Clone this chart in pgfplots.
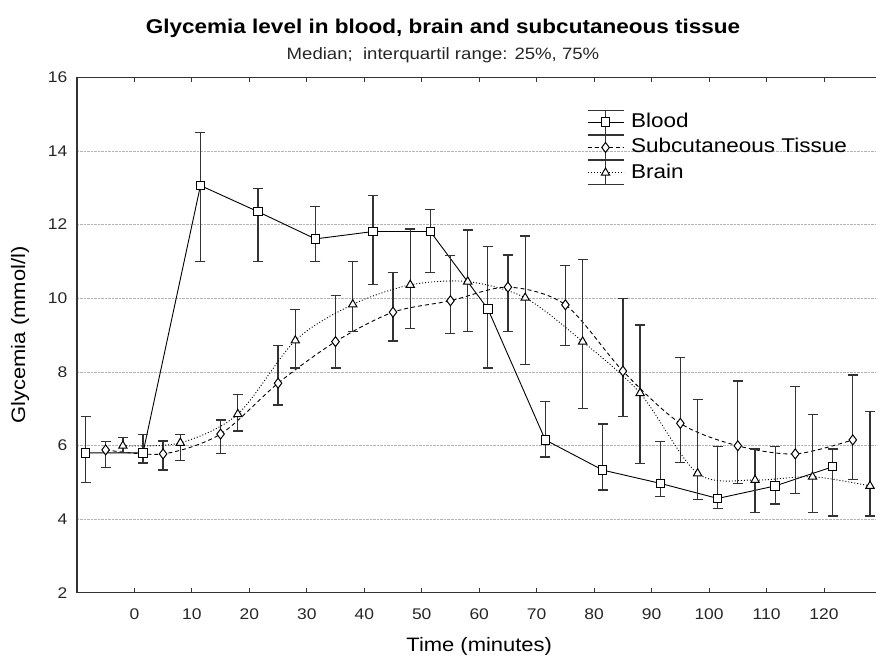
\documentclass[border=0pt]{standalone}
\usepackage{fontspec}
\setmainfont{Liberation Sans}[FakeStretch=1.13]
\usepackage{pgfplots}
\usepackage{pgfplotstable}
\pgfplotsset{compat=1.18}

\pgfplotstableread{
x y hi lo
-8.5 5.80 6.78 4.99
1.5 5.80 6.30 5.52
11.5 13.06 14.50 10.99
21.5 12.35 12.98 10.99
31.5 11.61 12.49 10.99
41.5 11.81 12.79 10.38
51.5 11.81 12.40 10.69
61.5 9.71 11.40 8.10
71.5 6.15 7.19 5.69
81.5 5.33 6.58 4.79
91.5 4.97 6.10 4.61
101.5 4.56 5.97 4.29
111.5 4.90 5.97 4.41
121.5 5.42 5.90 4.08
}\blood

\pgfplotstableread{
x y hi lo
-5 5.88 6.10 5.41
5 5.77 6.12 5.33
15 6.31 6.69 5.79
25 7.69 8.71 7.10
35 8.82 10.07 8.10
45 9.62 10.69 8.84
55 9.93 11.15 9.04
65 10.30 11.17 9.09
75 9.82 10.88 8.71
85 8.02 10.00 6.78
95 6.60 8.38 5.53
105 5.99 7.75 4.97
115 5.77 7.60 4.70
125 6.15 7.91 5.08
}\subcut

\pgfplotstableread{
x y hi lo
-2 5.99 6.21 5.81
8 6.07 6.30 5.59
18 6.85 7.39 6.39
28 8.85 9.70 8.10
38 9.83 10.99 9.09
48 10.36 11.88 9.18
58 10.45 11.85 9.09
68 10.01 11.69 8.20
78 8.82 11.06 7.01
88 7.42 9.27 5.50
98 5.24 7.24 4.54
108 5.06 5.90 4.17
118 5.15 6.85 4.17
128 4.90 6.92 4.08
}\brain

\tikzset{errbarstyle/.style={solid, line width=1.3bp, draw=black!80}}

\pgfplotsset{
  myleg/.style={
    legend image code/.code={
      \draw[errbarstyle] (18bp,-12bp) -- (18bp,12bp)
        (0bp,12bp) -- (36bp,12bp) (0bp,-12bp) -- (36bp,-12bp);
      \draw[mark repeat=2, mark phase=2, ##1]
        plot coordinates {(0bp,0bp) (18bp,0bp) (36bp,0bp)};
    }
  }
}

\begin{document}
\begin{tikzpicture}
\useasboundingbox (0,0) rectangle (876bp,657bp);
\begin{axis}[
  at={(76.9bp,64.3bp)}, anchor=south west,
  scale only axis,
  width=804.6bp, height=515.4bp,
  xmin=-10, xmax=130, ymin=2, ymax=16,
  xtick={0,10,...,120}, ytick={2,4,...,16},
  tick align=inside,
  major tick length=5bp,
  ytick style={draw=none},
  xtick style={black!80, line width=1bp},
  axis line style={black!80, line width=1.2bp},
  ymajorgrids,
  grid style={densely dotted, gray!60, line width=0.6bp},
  /pgf/number format/assume math mode=true,
  ticklabel style={font=\fontsize{15.5}{18}\selectfont, text=black!85},
  xticklabel style={yshift=-12bp},
  yticklabel style={xshift=-6bp},
  xlabel={Time (minutes)},
  ylabel={Glycemia (mmol/l)},
  label style={font=\fontsize{19.5}{22}\selectfont},
  xlabel style={yshift=-11bp},
  ylabel style={yshift=12bp},
  legend cell align=left,
  legend style={at={(axis cs:78.7,15.13)}, anchor=north west,
    draw=none, fill=none, inner sep=0pt,
    font=\fontsize{20}{22}\selectfont,
    row sep=0bp, column sep=7bp,
    nodes={inner sep=0pt, text height=15bp, text depth=4bp}},
  myleg,
  error bars/y dir=both,
  error bars/y explicit,
  error bars/error bar style={errbarstyle},
  error bars/error mark options={rotate=90, mark size=5bp, line width=1.3bp, draw=black!80},
]
\addplot[black, line width=0.9bp, solid, mark=square*,
  mark options={solid, fill=white, draw=black, mark size=4.2bp, line width=1bp}]
  table[x=x, y=y, y error plus expr=\thisrow{hi}-\thisrow{y},
        y error minus expr=\thisrow{y}-\thisrow{lo}] {\blood};
\addlegendentry{Blood}
\addplot[black, line width=0.9bp, dash pattern=on 4bp off 3bp, smooth, mark=diamond*,
  mark options={solid, fill=white, draw=black, mark size=5bp, line width=1bp}]
  table[x=x, y=y, y error plus expr=\thisrow{hi}-\thisrow{y},
        y error minus expr=\thisrow{y}-\thisrow{lo}] {\subcut};
\addlegendentry{Subcutaneous Tissue}
\addplot[black, line width=0.9bp, dash pattern=on 1bp off 2bp, smooth, mark=triangle*,
  mark options={solid, fill=white, draw=black, mark size=4.8bp, line width=1bp}]
  table[x=x, y=y, y error plus expr=\thisrow{hi}-\thisrow{y},
        y error minus expr=\thisrow{y}-\thisrow{lo}] {\brain};
\addlegendentry{Brain}
\end{axis}
\node[anchor=base, font=\bfseries\fontsize{20}{24}\selectfont] at (443bp,623.5bp)
  {Glycemia level in blood, brain and subcutaneous tissue};
\node[anchor=base, font=\fontsize{16.5}{20}\selectfont, text=black!85] at (443bp,597bp)
  {Median;\ \ interquartil range: 25\%, 75\%};
\end{tikzpicture}
\end{document}
